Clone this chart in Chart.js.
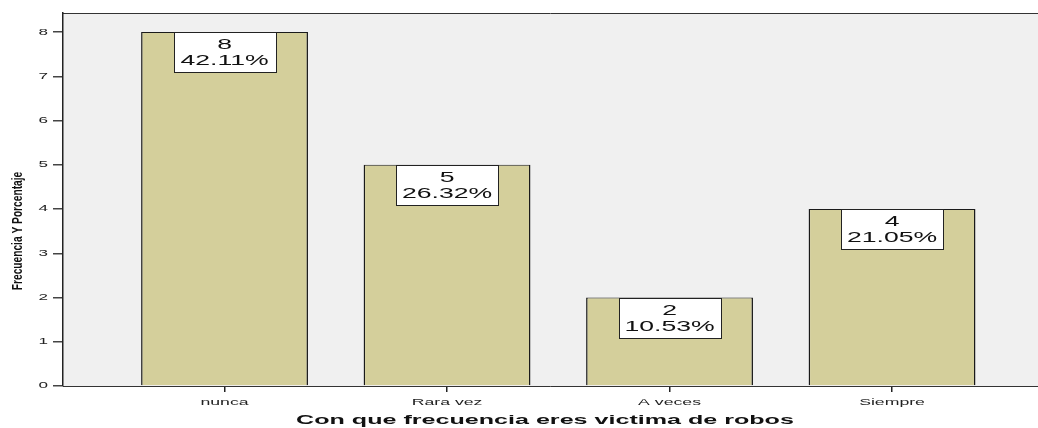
<!DOCTYPE html>
<html>
<head>
<meta charset="utf-8">
<script src="https://cdn.jsdelivr.net/npm/chart.js@4"></script>
<style>
  html, body { margin: 0; padding: 0; background: #ffffff; }
  #wrap { width: 1038px; height: 428px; }
</style>
</head>
<body>
<div id="wrap"><canvas id="barChart"></canvas></div>
<script>
// Frecuencia de robos - SPSS style bar chart with count + percent boxes
const categories = ['nunca', 'Rara vez', 'A veces', 'Siempre'];
const counts = [8, 5, 2, 4];
const percents = ['42.11%', '26.32%', '10.53%', '21.05%'];
const yTicks = [0, 1, 2, 3, 4, 5, 6, 7, 8];

const FONT = '"Liberation Sans", Arial, sans-serif';
const STRETCH = 1.9; // the original export is stretched sideways

// draw text squeezed/stretched horizontally around (x, y)
function wideText(ctx, text, x, y, font, align, sx) {
    ctx.save();
    ctx.translate(x, y);
    ctx.scale(sx, 1);
    ctx.font = font;
    ctx.textAlign = align;
    ctx.fillText(text, 0, 0);
    ctx.restore();
}

// Plot background, top frame line, axis texts
const framePlugin = {
    id: 'frame',
    beforeDraw(chart) {
        const { ctx, chartArea: a } = chart;
        ctx.save();
        ctx.fillStyle = '#f0f0f0';
        ctx.fillRect(a.left, a.top, a.right - a.left, a.bottom - a.top);
        ctx.strokeStyle = '#333333';
        ctx.lineWidth = 1;
        ctx.beginPath();
        ctx.moveTo(a.left, a.top + 0.5);
        ctx.lineTo(a.right, a.top + 0.5);
        ctx.stroke();
        ctx.restore();

        // y title, narrow bold face
        ctx.save();
        ctx.translate(18, 231);
        ctx.rotate(-Math.PI / 2);
        ctx.scale(0.68, 1);
        ctx.font = 'bold 15px ' + FONT;
        ctx.fillStyle = '#111111';
        ctx.textAlign = 'center';
        ctx.textBaseline = 'middle';
        ctx.fillText('Frecuencia Y Porcentaje', 0, 0);
        ctx.restore();
    },
    afterDraw(chart) {
        const { ctx, chartArea: a, scales: { x, y } } = chart;
        ctx.save();
        ctx.fillStyle = '#222222';
        ctx.textBaseline = 'middle';
        yTicks.forEach(v => {
            wideText(ctx, String(v), 48, y.getPixelForValue(v), '9px ' + FONT, 'right', STRETCH);
        });
        ctx.textBaseline = 'alphabetic';
        categories.forEach((c, i) => {
            wideText(ctx, c, x.getPixelForValue(i), 405, '9.5px ' + FONT, 'center', 1.86);
        });
        ctx.fillStyle = '#111111';
        wideText(ctx, 'Con que frecuencia eres victima de robos', 545, 424,
            'bold 13px ' + FONT, 'center', 1.93);
        ctx.restore();
    }
};

// White label boxes at the top of each bar
const boxPlugin = {
    id: 'boxes',
    afterDatasetsDraw(chart) {
        const { ctx } = chart;
        const meta = chart.getDatasetMeta(0);
        ctx.save();
        meta.data.forEach((bar, i) => {
            const w = 102, h = 40;
            const left = Math.round(bar.x - w / 2) + 0.5;
            const top = Math.round(bar.y) + 0.5;
            ctx.fillStyle = '#ffffff';
            ctx.fillRect(left, top, w, h);
            ctx.strokeStyle = '#222222';
            ctx.lineWidth = 1;
            ctx.strokeRect(left, top, w, h);
            ctx.fillStyle = '#111111';
            ctx.textBaseline = 'middle';
            wideText(ctx, String(counts[i]), bar.x, top + 13, '14px ' + FONT, 'center', STRETCH);
            wideText(ctx, percents[i], bar.x, top + 29, '14px ' + FONT, 'center', STRETCH);
        });
        ctx.restore();
    }
};

const data = categories.map((c, i) => ({ x: i, y: counts[i] }));

new Chart(document.getElementById('barChart').getContext('2d'), {
    type: 'bar',
    data: {
        datasets: [{
            data,
            backgroundColor: '#d4cf9b',
            borderColor: '#1a1a1a',
            borderWidth: { top: 1, left: 1.5, right: 1.5, bottom: 0 },
            barPercentage: 0.75,
            categoryPercentage: 1.0
        }]
    },
    options: {
        responsive: true,
        maintainAspectRatio: false,
        animation: false,
        layout: { padding: { top: 13, right: 0, left: 0, bottom: 0 } },
        plugins: { legend: { display: false }, tooltip: { enabled: false } },
        scales: {
            x: {
                type: 'linear',
                offset: false,
                min: -0.726,
                max: 3.656,
                afterBuildTicks: s => { s.ticks = categories.map((c, i) => ({ value: i })); },
                afterFit: s => { s.height = 42; },
                ticks: { display: false },
                grid: { display: true, offset: false, drawOnChartArea: false, drawTicks: true, tickLength: 6, color: '#222222', lineWidth: 1.5 },
                border: { display: true, color: '#333333', width: 1 },
                title: { display: false }
            },
            y: {
                min: 0,
                max: 8.43,
                afterBuildTicks: s => { s.ticks = yTicks.map(v => ({ value: v })); },
                afterFit: s => { s.width = 63; },
                ticks: { display: false },
                grid: { display: true, drawOnChartArea: false, drawTicks: true, tickLength: 10, color: '#444444', lineWidth: 1.5 },
                border: { display: true, color: '#222222', width: 1.5 },
                title: { display: false }
            }
        }
    },
    plugins: [framePlugin, boxPlugin]
});
</script>
</body>
</html>
